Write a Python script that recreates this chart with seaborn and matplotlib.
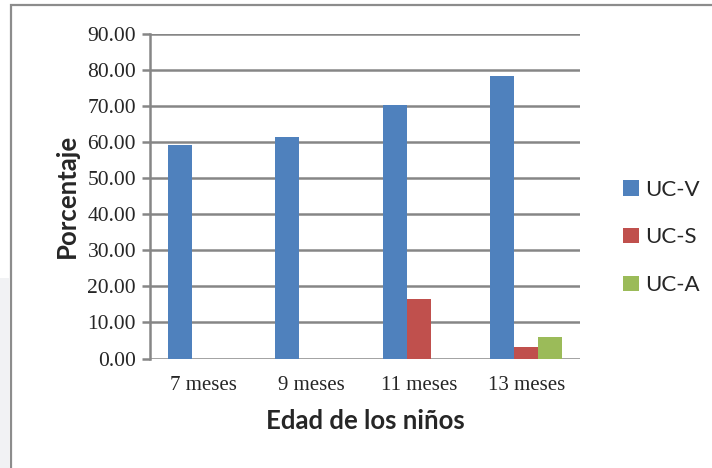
import matplotlib
matplotlib.use("Agg")
import matplotlib.pyplot as plt
from matplotlib.patches import Rectangle
import seaborn as sns
import pandas as pd

# Data
edades = ["7 meses", "9 meses", "11 meses", "13 meses"]
series = ["UC-V", "UC-S", "UC-A"]
uc_v = [59.1, 61.4, 70.4, 78.4]
uc_s = [0.0, 0.0, 16.6, 3.1]
uc_a = [0.0, 0.0, 0.0, 6.1]
y_ticks = [0, 10, 20, 30, 40, 50, 60, 70, 80, 90]

colores = ["#4F81BD", "#C0504D", "#9BBB59"]

df = pd.DataFrame({
    "Edad": edades * 3,
    "Serie": [s for s in series for _ in edades],
    "Porcentaje": uc_v + uc_s + uc_a,
})

sns.set_style("white")
W, H = 712, 468
fig = plt.figure(figsize=(W / 100, H / 100), dpi=100)
fig.patch.set_facecolor("white")

# outer chart frame and the grey margin at the left
fig.add_artist(Rectangle((0, 0), 9 / W, (H - 278) / H, transform=fig.transFigure,
                         facecolor="#F1F2F4", edgecolor="none", zorder=0))
fig.add_artist(Rectangle((10.5 / W, -0.1), 1.2, (H - 5.5) / H + 0.1, transform=fig.transFigure,
                         facecolor="none", edgecolor="#8C8C8C", linewidth=1.6, zorder=1))

left, right, bottom, top = 150, 580, 358.5, 34
ax = fig.add_axes([left / W, (H - bottom) / H, (right - left) / W, (bottom - top) / H])

sns.barplot(data=df, x="Edad", y="Porcentaje", hue="Serie", palette=colores,
            width=0.67, gap=0, ax=ax, linewidth=0, saturation=1, legend=True, zorder=3)

ax.set_ylim(0, 90)
ax.set_xlim(-0.5, 3.5)
ax.set_yticks(y_ticks)
ax.set_yticklabels([f"{v:.2f}" for v in y_ticks], fontfamily="Liberation Serif", fontsize=15.5)
ax.set_xticks(range(len(edades)))
ax.set_xticklabels(edades, fontfamily="Liberation Serif", fontsize=15)
ax.yaxis.grid(True, color="#868686", linewidth=1.8, zorder=0)
ax.set_axisbelow(True)
for s in ["top", "right", "bottom"]:
    ax.spines[s].set_visible(False)
ax.spines["left"].set_color("#868686")
ax.spines["left"].set_linewidth(1.8)
ax.tick_params(axis="y", which="major", left=True, length=6, width=1.8, color="#868686", pad=4)
ax.tick_params(axis="x", which="major", bottom=False, pad=9)

ax.set_ylabel("Porcentaje", fontfamily="Lato", fontweight="bold", fontsize=18.5, labelpad=6)
ax.set_xlabel("Edad de los niños", fontfamily="Lato", fontweight="bold", fontsize=18.5, labelpad=10)

handles, labels = ax.get_legend_handles_labels()
ax.get_legend().remove()
fig.legend(handles, labels, loc="center left", bbox_to_anchor=(623 / W, (H - 237.5) / H),
           frameon=False, prop={"family": "Lato", "size": 16},
           handlelength=0.7, handleheight=0.7, handletextpad=0.3, labelspacing=1.25,
           borderaxespad=0, borderpad=0)

fig.savefig("out.png", dpi=100, facecolor="white")
